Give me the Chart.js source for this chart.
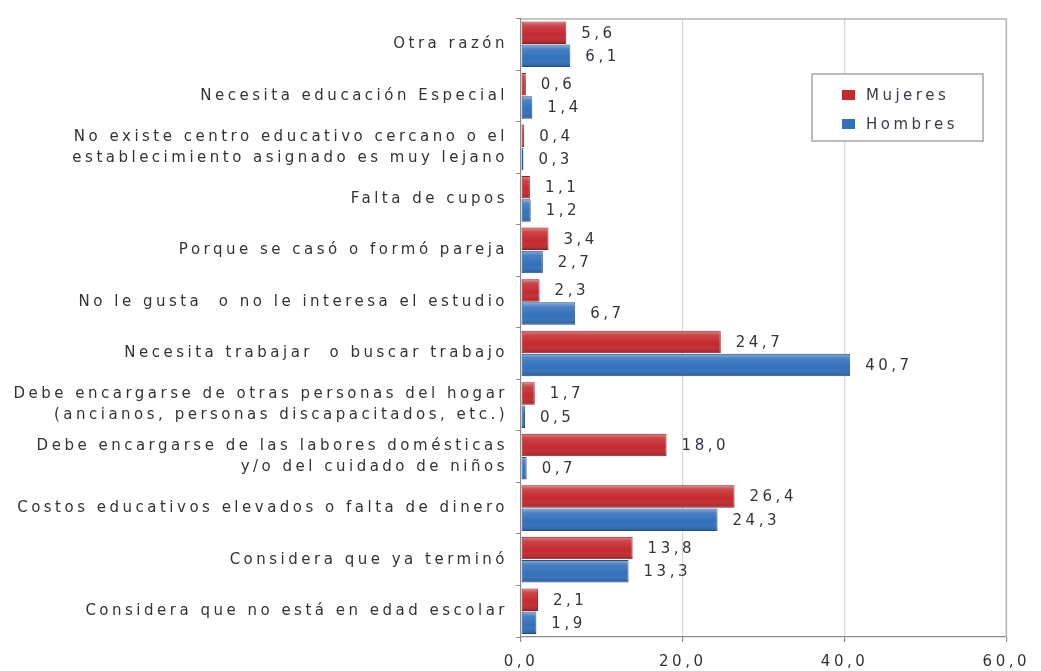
<!DOCTYPE html>
<html><head><meta charset="utf-8">
<script src="https://cdn.jsdelivr.net/npm/chart.js@4.4.1/dist/chart.umd.min.js"></script>
<style>html,body{margin:0;padding:0;background:#fff}#wrap{width:1041px;height:671px;position:relative}</style>
</head><body><div id="wrap"><canvas id="c"></canvas></div>
<script>
const categories = [
  'Otra razón',
  'Necesita educación Especial',
  ['No existe centro educativo cercano o el', 'establecimiento asignado es muy lejano'],
  'Falta de cupos',
  'Porque se casó o formó pareja',
  'No le gusta  o no le interesa el estudio',
  'Necesita trabajar  o buscar trabajo',
  ['Debe encargarse de otras personas del hogar', '(ancianos, personas discapacitados, etc.)'],
  ['Debe encargarse de las labores domésticas', 'y/o del cuidado de niños'],
  'Costos educativos elevados o falta de dinero',
  'Considera que ya terminó',
  'Considera que no está en edad escolar'
];
const seriesNames = ['Mujeres', 'Hombres'];
const mujeres = [5.6, 0.6, 0.4, 1.1, 3.4, 2.3, 24.7, 1.7, 18.0, 26.4, 13.8, 2.1];
const hombres = [6.1, 1.4, 0.3, 1.2, 2.7, 6.7, 40.7, 0.5, 0.7, 24.3, 13.3, 1.9];
const xTicks = [0, 20, 40, 60];

const FONT = 'DejaVu Sans';
const FSIZE = 15;
const SPACING = '3.5px';
const fmt = v => Number(v).toFixed(1).replace('.', ',');

const spacingPlugin = {
  id: 'spacing',
  beforeLayout(chart) { chart.ctx.letterSpacing = SPACING; },
  beforeDraw(chart) { chart.ctx.letterSpacing = SPACING; }
};

const barShade = {
  id: 'barShade',
  afterDatasetsDraw(chart) {
    const ctx = chart.ctx;
    chart.data.datasets.forEach((ds, i) => {
      const meta = chart.getDatasetMeta(i);
      meta.data.forEach(el => {
        const p = el.getProps(['x', 'y', 'base', 'height'], true);
        const top = p.y - p.height / 2, bot = p.y + p.height / 2;
        const g = ctx.createLinearGradient(0, top, 0, bot);
        g.addColorStop(0, 'rgba(255,255,255,0.45)');
        g.addColorStop(0.2, 'rgba(255,255,255,0.12)');
        g.addColorStop(0.6, 'rgba(255,255,255,0)');
        g.addColorStop(1, 'rgba(0,0,0,0.22)');
        ctx.save();
        ctx.fillStyle = g;
        ctx.fillRect(Math.min(p.base, p.x) + 1, top + 1, Math.abs(p.x - p.base) - 1, p.height - 2);
        ctx.restore();
      });
    });
  }
};

const valueLabels = {
  id: 'valueLabels',
  afterDatasetsDraw(chart) {
    const ctx = chart.ctx;
    ctx.save();
    ctx.letterSpacing = SPACING;
    ctx.font = FSIZE + 'px "' + FONT + '"';
    ctx.fillStyle = '#34343f';
    ctx.textAlign = 'left';
    ctx.textBaseline = 'middle';
    chart.data.datasets.forEach((ds, i) => {
      const meta = chart.getDatasetMeta(i);
      meta.data.forEach((el, j) => {
        const p = el.getProps(['x', 'y'], true);
        ctx.fillText(fmt(ds.data[j]), p.x + 15, p.y + 1);
      });
    });
    ctx.restore();
  }
};

const frame = {
  id: 'frame',
  afterDraw(chart) {
    const ctx = chart.ctx, a = chart.chartArea;
    ctx.save();
    ctx.strokeStyle = '#b4b4b4';
    ctx.lineWidth = 1.5;
    ctx.beginPath();
    ctx.moveTo(a.left, a.top + 0.5);
    ctx.lineTo(a.right, a.top + 0.5);
    ctx.lineTo(a.right, a.bottom);
    ctx.stroke();
    // legend
    const bx = 812, by = 74, bw = 171, bh = 67;
    ctx.fillStyle = '#fff';
    ctx.fillRect(bx, by, bw, bh);
    ctx.strokeStyle = '#a6a6a6';
    ctx.lineWidth = 1.5;
    ctx.strokeRect(bx, by, bw, bh);
    ctx.letterSpacing = SPACING;
    ctx.font = FSIZE + 'px "' + FONT + '"';
    ctx.textBaseline = 'middle';
    ctx.textAlign = 'left';
    chart.data.datasets.forEach((ds, i) => {
      const cy = by + 21 + i * 29;
      ctx.fillStyle = ds.backgroundColor;
      ctx.fillRect(842, cy - 5, 13, 10);
      ctx.fillStyle = '#3a3a48';
      ctx.fillText(ds.label, 866, cy + 1);
    });
    ctx.restore();
  }
};

new Chart(document.getElementById('c'), {
  type: 'bar',
  data: {
    labels: categories,
    datasets: [
      { label: seriesNames[0], data: mujeres, backgroundColor: '#c4292e', borderColor: '#8f1d20', borderWidth: 1, borderSkipped: false },
      { label: seriesNames[1], data: hombres, backgroundColor: '#3170bb', borderColor: '#234f88', borderWidth: 1, borderSkipped: false }
    ]
  },
  options: {
    indexAxis: 'y',
    responsive: true,
    maintainAspectRatio: false,
    animation: false,
    devicePixelRatio: 1,
    categoryPercentage: 0.9,
    barPercentage: 0.97,
    layout: { padding: { left: 0, right: 26, top: 14, bottom: 0 } },
    plugins: { legend: { display: false }, tooltip: { enabled: false } },
    scales: {
      x: {
        min: xTicks[0], max: xTicks[xTicks.length - 1],
        afterBuildTicks: s => { s.ticks = xTicks.map(v => ({ value: v })); },
        afterFit: s => { s.height = 34; },
        grid: {
          color: c => (c.tick && c.tick.value === 0) ? 'rgba(0,0,0,0)' : '#d6d6d6',
          tickColor: '#8c8c8c', tickLength: 5, lineWidth: 1.2
        },
        border: { color: '#8c8c8c', width: 1.2 },
        ticks: {
          autoSkip: false, maxRotation: 0, padding: 11,
          color: '#333', font: { family: FONT, size: FSIZE },
          callback: v => fmt(v)
        }
      },
      y: {
        afterFit: s => { s.width = 521; },
        grid: { display: true, drawOnChartArea: false, drawTicks: true, tickLength: 5, color: '#8c8c8c', offset: true },
        border: { color: '#8c8c8c', width: 1.2 },
        ticks: {
          autoSkip: false, padding: 8,
          color: '#333', font: { family: FONT, size: FSIZE, lineHeight: 1.4 }
        }
      }
    }
  },
  plugins: [spacingPlugin, barShade, valueLabels, frame]
});
</script>
</body></html>
